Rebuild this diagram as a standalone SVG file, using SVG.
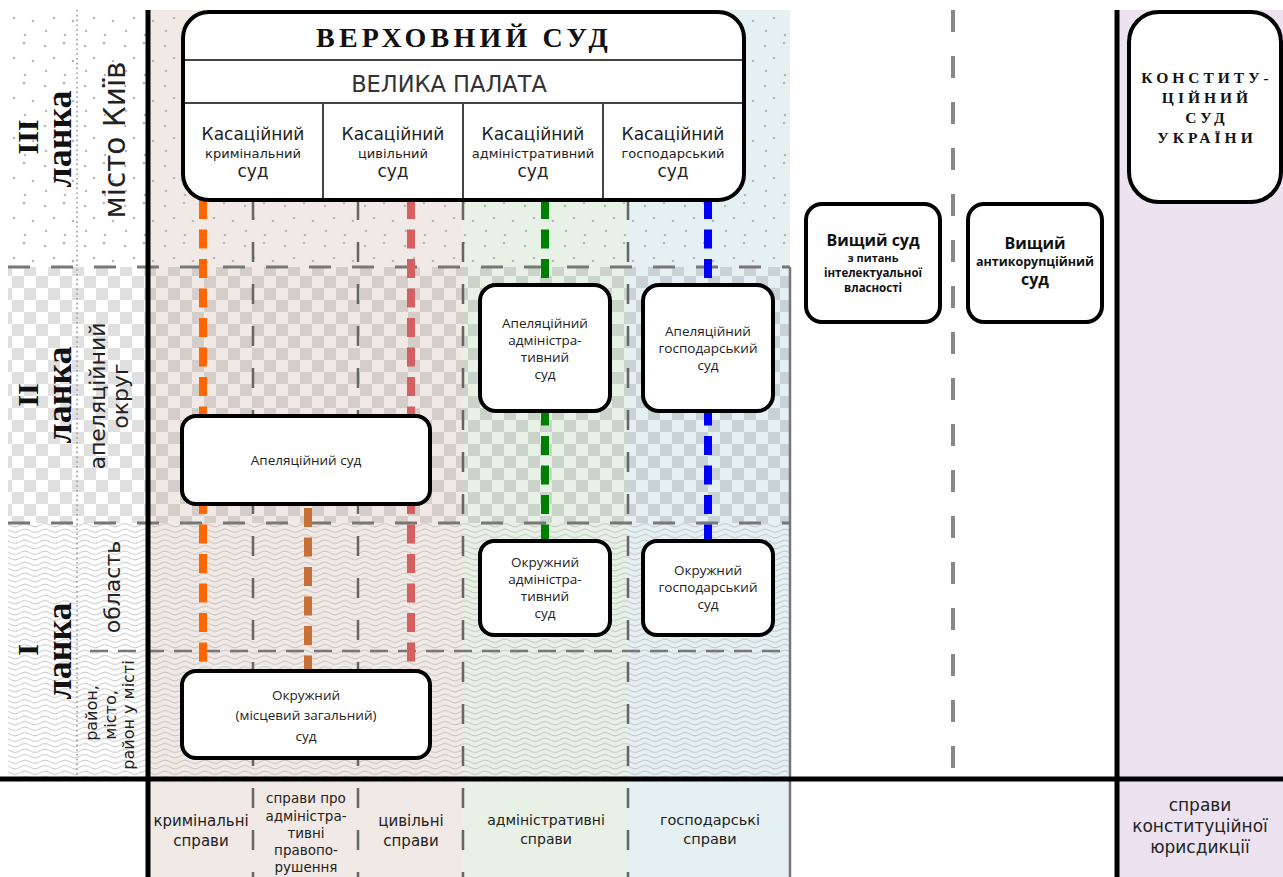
<svg xmlns="http://www.w3.org/2000/svg" width="1283" height="877" viewBox="0 0 1283 877">
<defs>
<pattern id="dots" patternUnits="userSpaceOnUse" width="40" height="40">
<circle cx="5" cy="6" r="1.3" fill="#b8b8b8"/>
<circle cx="24" cy="3" r="1.3" fill="#b8b8b8"/>
<circle cx="14" cy="18" r="1.3" fill="#b8b8b8"/>
<circle cx="33" cy="21" r="1.3" fill="#b8b8b8"/>
<circle cx="6" cy="31" r="1.3" fill="#b8b8b8"/>
<circle cx="25" cy="35" r="1.3" fill="#b8b8b8"/>
</pattern>
<pattern id="checker" patternUnits="userSpaceOnUse" width="24" height="24">
<rect x="0" y="0" width="12" height="12" fill="#000" fill-opacity="0.12"/>
<rect x="12" y="12" width="12" height="12" fill="#000" fill-opacity="0.12"/>
</pattern>
<pattern id="waves" patternUnits="userSpaceOnUse" width="20" height="5.5">
<path d="M0 2.75 C5 0.5 5 0.5 10 2.75 S15 5 20 2.75" fill="none" stroke="#b4b4b4" stroke-width="0.8"/>
</pattern>
</defs>
<style>
.box{fill:#fff;stroke:#000;stroke-width:4}
.sans{font-family:"DejaVu Sans","Noto Sans",sans-serif;fill:#222}
.open{font-family:"Open Sans","Noto Sans",sans-serif;fill:#222}
.openb{font-family:"Open Sans","Noto Sans",sans-serif;fill:#111;font-weight:bold}
.serif{font-family:"Liberation Serif","DejaVu Serif",serif;font-weight:bold;fill:#111}
.gridh{stroke:#777;stroke-width:3;stroke-dasharray:22 21;fill:none}
.gridv{stroke:#666;stroke-width:2.5;stroke-dasharray:20 22;fill:none}
.conn{stroke-width:8;stroke-dasharray:19 10.5;fill:none}
.inner{stroke:#444;stroke-width:2;fill:none}
</style>
<rect width="1283" height="877" fill="#fff"/>
<g id="bands">
<rect x="150" y="10" width="313" height="867" fill="#f1e9e5"/>
<rect x="463" y="10" width="165" height="867" fill="#e7f1e6"/>
<rect x="628" y="10" width="162" height="867" fill="#e5f0f2"/>
<rect x="1117" y="10" width="166" height="867" fill="#ede3f0"/>
</g>
<g id="zones">
<rect x="8" y="10" width="782" height="257" fill="url(#dots)"/>
<rect x="8" y="267" width="782" height="256" fill="url(#checker)"/>
<rect x="8" y="523" width="782" height="256" fill="url(#waves)"/>
</g>
<g id="grid">
<line x1="77" y1="10" x2="77" y2="779" stroke="#999" stroke-width="1.6" stroke-dasharray="1.6 3.2"/>
<line class="gridh" x1="8" y1="267" x2="790" y2="267"/>
<line class="gridh" x1="8" y1="523" x2="790" y2="523"/>
<line x1="90" y1="651" x2="790" y2="651" stroke="#777" stroke-width="2.5" stroke-dasharray="18 10"/>
<line class="gridv" x1="253" y1="200" x2="253" y2="877"/>
<line class="gridv" x1="358" y1="200" x2="358" y2="877"/>
<line class="gridv" x1="463" y1="200" x2="463" y2="877"/>
<line class="gridv" x1="628" y1="200" x2="628" y2="877"/>
<line x1="790" y1="267" x2="790" y2="877" stroke="#777" stroke-width="2.5"/>
<line x1="953" y1="10" x2="953" y2="779" stroke="#888" stroke-width="4" stroke-dasharray="22 24"/>
<line x1="148" y1="10" x2="148" y2="877" stroke="#000" stroke-width="5"/>
<line x1="1117" y1="10" x2="1117" y2="877" stroke="#000" stroke-width="5"/>
<line x1="0" y1="779" x2="1283" y2="779" stroke="#000" stroke-width="5"/>
</g>
<g id="connectors">
<line class="conn" x1="203" y1="200" x2="203" y2="671" stroke="#ff6600"/>
<line class="conn" x1="411" y1="200" x2="411" y2="671" stroke="#d65f5f"/>
<line class="conn" x1="308" y1="508" x2="308" y2="671" stroke="#c87137"/>
<line class="conn" x1="545" y1="200" x2="545" y2="541" stroke="#008000"/>
<line class="conn" x1="708" y1="200" x2="708" y2="541" stroke="#0000ff"/>
</g>
<g id="rank-labels">
<text class="serif" font-size="30" text-anchor="middle" transform="translate(38,137) rotate(-90)">III</text>
<text class="serif" font-size="36" text-anchor="middle" transform="translate(71,139) rotate(-90)">ланка</text>
<text class="sans" font-size="29.5" text-anchor="middle" transform="translate(125,140) rotate(-90)">місто Київ</text>
<text class="serif" font-size="30" text-anchor="middle" transform="translate(38,395) rotate(-90)">II</text>
<text class="serif" font-size="36" text-anchor="middle" transform="translate(71,395) rotate(-90)">ланка</text>
<text class="sans" font-size="22" text-anchor="middle" transform="translate(105,396) rotate(-90)">апеляційний</text>
<text class="sans" font-size="22" text-anchor="middle" transform="translate(128,396) rotate(-90)">округ</text>
<text class="serif" font-size="30" text-anchor="middle" transform="translate(38,650) rotate(-90)">I</text>
<text class="serif" font-size="36" text-anchor="middle" transform="translate(71,651) rotate(-90)">ланка</text>
<text class="sans" font-size="22" text-anchor="middle" transform="translate(120,587) rotate(-90)">область</text>
<text class="sans" font-size="16" text-anchor="middle" transform="translate(97,713) rotate(-90)">район,</text>
<text class="sans" font-size="16" text-anchor="middle" transform="translate(116,715) rotate(-90)">місто,</text>
<text class="sans" font-size="16" text-anchor="middle" transform="translate(134,715) rotate(-90)">район у місті</text>
</g>
<g id="supreme-court">
<rect class="box" x="183" y="12" width="561" height="188" rx="26" stroke-width="4.5"/>
<line class="inner" x1="185" y1="60" x2="742" y2="60"/>
<line class="inner" x1="185" y1="103" x2="742" y2="103"/>
<line class="inner" x1="323" y1="103" x2="323" y2="198"/>
<line class="inner" x1="463" y1="103" x2="463" y2="198"/>
<line class="inner" x1="603" y1="103" x2="603" y2="198"/>
<text class="serif" font-size="28" letter-spacing="4.2" text-anchor="middle" x="464" y="47">ВЕРХОВНИЙ СУД</text>
<text class="sans" font-size="22.5" text-anchor="middle" x="449" y="92" style="fill:#333">ВЕЛИКА ПАЛАТА</text>
<g class="sans" text-anchor="middle">
<text font-size="17" x="253" y="140">Касаційний</text>
<text font-size="13" x="253" y="158">кримінальний</text>
<text font-size="17" x="253" y="177">суд</text>
<text font-size="17" x="393" y="140">Касаційний</text>
<text font-size="13" x="393" y="158">цивільний</text>
<text font-size="17" x="393" y="177">суд</text>
<text font-size="17" x="533" y="140">Касаційний</text>
<text font-size="13" x="533" y="158">адміністративний</text>
<text font-size="17" x="533" y="177">суд</text>
<text font-size="17" x="673" y="140">Касаційний</text>
<text font-size="13" x="673" y="158">господарський</text>
<text font-size="17" x="673" y="177">суд</text>
</g>
</g>
<g id="appeal-admin-court">
<rect class="box" x="480" y="285" width="130" height="126" rx="16"/>
<g class="open" font-size="13.5" text-anchor="middle">
<text x="545" y="328">Апеляційний</text>
<text x="545" y="345">адміністра-</text>
<text x="545" y="362">тивний</text>
<text x="545" y="379">суд</text>
</g>
</g>
<g id="appeal-commercial-court">
<rect class="box" x="643" y="285" width="130" height="126" rx="16"/>
<g class="open" font-size="13.5" text-anchor="middle">
<text x="708" y="336">Апеляційний</text>
<text x="708" y="353">господарський</text>
<text x="708" y="370">суд</text>
</g>
</g>
<g id="appeal-court">
<rect class="box" x="182" y="416" width="248" height="88" rx="14"/>
<text class="open" font-size="13.5" text-anchor="middle" x="306" y="465">Апеляційний суд</text>
</g>
<g id="district-admin-court">
<rect class="box" x="480" y="541" width="130" height="94" rx="14"/>
<g class="open" font-size="13.5" text-anchor="middle">
<text x="545" y="567">Окружний</text>
<text x="545" y="584">адміністра-</text>
<text x="545" y="601">тивний</text>
<text x="545" y="618">суд</text>
</g>
</g>
<g id="district-commercial-court">
<rect class="box" x="643" y="541" width="130" height="94" rx="14"/>
<g class="open" font-size="13.5" text-anchor="middle">
<text x="708" y="575">Окружний</text>
<text x="708" y="592">господарський</text>
<text x="708" y="609">суд</text>
</g>
</g>
<g id="district-court">
<rect class="box" x="182" y="671" width="248" height="87" rx="14"/>
<g class="open" font-size="13.5" text-anchor="middle">
<text x="306" y="700">Окружний</text>
<text x="306" y="720">(місцевий загальний)</text>
<text x="306" y="741">суд</text>
</g>
</g>
<g id="ip-court">
<rect class="box" x="806" y="204" width="134" height="118" rx="16"/>
<g class="openb" text-anchor="middle">
<text font-size="16" x="873" y="246">Вищий суд</text>
<text font-size="11" x="873" y="262">з питань</text>
<text font-size="11.5" x="873" y="277">інтелектуальної</text>
<text font-size="11.5" x="873" y="292">власності</text>
</g>
</g>
<g id="anticorruption-court">
<rect class="box" x="968" y="204" width="134" height="118" rx="16"/>
<g class="openb" text-anchor="middle">
<text font-size="16" x="1035" y="249">Вищий</text>
<text font-size="12.5" x="1035" y="266">антикорупційний</text>
<text font-size="16" x="1035" y="285">суд</text>
</g>
</g>
<g id="constitutional-court">
<rect class="box" x="1129" y="12" width="152" height="190" rx="30" stroke-width="5"/>
<g class="serif" font-size="15.5" letter-spacing="4" text-anchor="middle">
<text x="1207" y="83">КОНСТИТУ-</text>
<text x="1207" y="103">ЦІЙНИЙ</text>
<text x="1207" y="123">СУД</text>
<text x="1207" y="143">УКРАЇНИ</text>
</g>
</g>
<g id="jurisdiction-labels" class="sans" text-anchor="middle">
<text font-size="15" x="201" y="826">кримінальні</text>
<text font-size="15" x="201" y="846">справи</text>
<text font-size="13.5" x="306" y="803">справи про</text>
<text font-size="13.5" x="306" y="821">адміністра-</text>
<text font-size="13.5" x="306" y="838">тивні</text>
<text font-size="13.5" x="306" y="855">правопо-</text>
<text font-size="13.5" x="306" y="872">рушення</text>
<text font-size="15" x="411" y="826">цивільні</text>
<text font-size="15" x="411" y="846">справи</text>
<text font-size="14" x="546" y="825">адміністративні</text>
<text font-size="14" x="546" y="844">справи</text>
<text font-size="14.5" x="710" y="825">господарські</text>
<text font-size="14.5" x="710" y="844">справи</text>
<text font-size="17" x="1200" y="811">справи</text>
<text font-size="17" x="1200" y="832">конституційної</text>
<text font-size="17" x="1200" y="853">юрисдикції</text>
</g>
</svg>
